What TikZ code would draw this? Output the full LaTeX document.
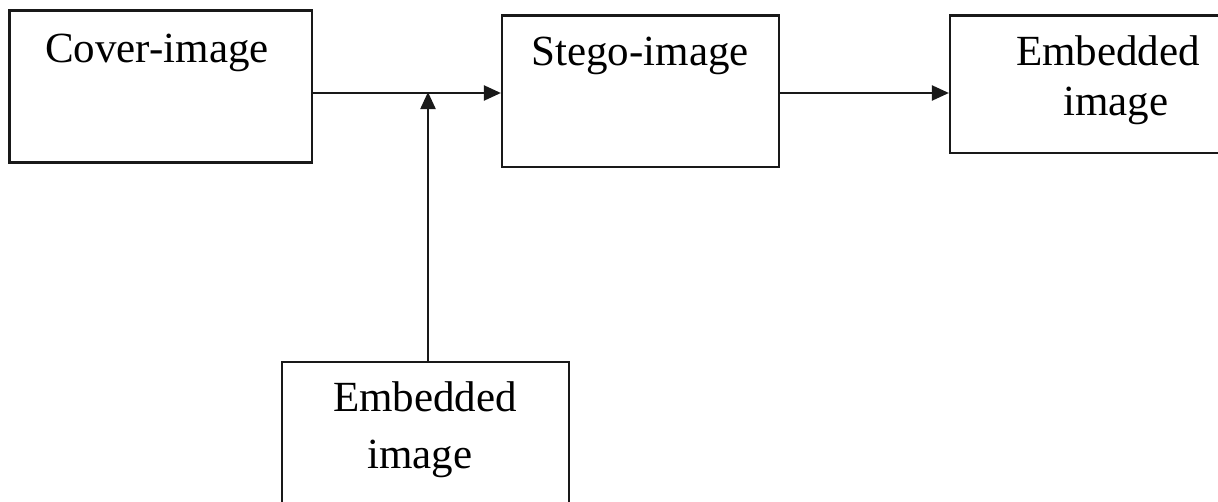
\documentclass[tikz,border=0pt]{standalone}
\usepackage{fontspec}
\setmainfont{Liberation Serif}
\usetikzlibrary{arrows.meta}
\begin{document}
\begin{tikzpicture}[x=1pt,y=-1pt,
  block/.style={draw=black!90, line width=2.2pt, rectangle, inner sep=0pt},
  label/.style={anchor=base, inner sep=0pt, font=\fontsize{43}{50}\selectfont},
  flow/.style={line width=2.2pt, draw=black!90, -{Triangle[length=17pt,width=15pt]}}]
\useasboundingbox (0,0) rectangle (1218,501);
\clip (0,0) rectangle (1218,501);
% boxes
\node[block, minimum width=302.5pt, minimum height=152pt] (cover) at (160.75,86.5) {};
\node[block, minimum width=277pt, minimum height=151.5pt] (stego) at (640.5,91.25) {};
\node[block, minimum width=316pt, minimum height=137.5pt] (extract) at (1108,84.25) {};
\node[block, minimum width=287.6pt, minimum height=150pt] (secret) at (425.5,437.3) {};
% texts
\node[label] (tcover) at (157,62) {Cover-image};
\node[label] (tstego) at (640,65) {Stego-image};
\node[label] (textract1) at (1108,65) {Embedded};
\node[label] (textract2) at (1116,115) {image};
\node[label] (tsecret1) at (425,411.5) {Embedded};
\node[label] (tsecret2) at (420,468) {image};
% connectors
\coordinate (join) at (428,93);
\draw[flow] (cover.east |- join) -- (stego.west |- join);
\draw[flow] (secret.north -| join) -- ([yshift=1pt]join);
\draw[flow] (stego.east |- join) -- (extract.west |- join);
\end{tikzpicture}
\end{document}
